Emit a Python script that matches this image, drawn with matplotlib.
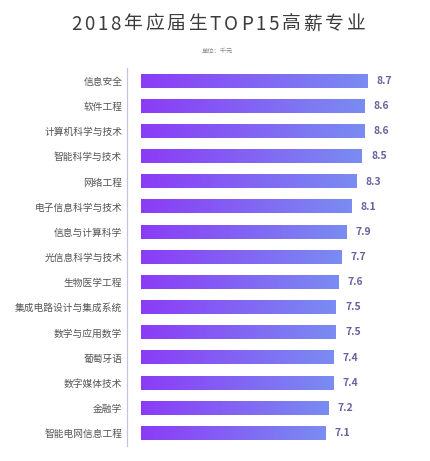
import matplotlib
matplotlib.use('Agg')
import matplotlib.pyplot as plt
from matplotlib.colors import LinearSegmentedColormap
import numpy as np

plt.rcParams['font.family'] = ['Noto Sans CJK SC', 'DejaVu Sans']

# data
majors = ['信息安全', '软件工程', '计算机科学与技术', '智能科学与技术', '网络工程',
          '电子信息科学与技术', '信息与计算科学', '光信息科学与技术', '生物医学工程',
          '集成电路设计与集成系统', '数学与应用数学', '葡萄牙语', '数字媒体技术',
          '金融学', '智能电网信息工程']
salary = [8.7, 8.6, 8.6, 8.5, 8.3, 8.1, 7.9, 7.7, 7.6, 7.5, 7.5, 7.4, 7.4, 7.2, 7.1]

W, H = 430, 461
fig = plt.figure(figsize=(W / 100, H / 100), dpi=100)
fig.patch.set_facecolor('white')

# axes placed in pixels: x=0 at 141px, 26px per unit; rows 81..433px
x0, px_unit = 141, 26.0
top, bottom = 68.4, 445.6
ax = fig.add_axes([x0 / W, 1 - bottom / H, 10 * px_unit / W, (bottom - top) / H])

grad = LinearSegmentedColormap.from_list('g', ['#8b3cf6', '#7a8cf1'])
bar_h = 0.54
ypos = np.arange(len(majors))
bars = ax.barh(ypos, salary, height=bar_h, color='none', edgecolor='none')
for b, v in zip(bars, salary):
    y = b.get_y()
    ax.imshow(np.linspace(0, 1, 256).reshape(1, -1), cmap=grad, aspect='auto',
              extent=(0, v, y + bar_h, y), zorder=2)
    ax.text(v + 0.35, y + bar_h / 2, f'{v:.1f}', va='center', ha='left',
            fontsize=7.5, color='#6c5fa0', fontweight='bold')

ax.set_xlim(0, 10)
ax.set_ylim(len(majors) - 0.5, -0.5)
ax.set_yticks(ypos)
ax.set_yticklabels(majors)
ax.tick_params(axis='y', length=0, pad=3.5, labelsize=7, labelcolor='#555555')
ax.set_xticks([])
for s in ['top', 'right', 'bottom']:
    ax.spines[s].set_visible(False)
ax.spines['left'].set_position(('outward', 10))
ax.spines['left'].set_color('#c9c3da')
ax.spines['left'].set_linewidth(0.9)

# letter-spaced title
title = '2018年应届生TOP15高薪专业'
fig.canvas.draw()
r = fig.canvas.get_renderer()
widths = []
for ch in title:
    t = fig.text(0, 0, ch, fontsize=13.5, color='#3c3c3c')
    widths.append(t.get_window_extent(r).width)
    t.remove()
gap = 2.8
total = sum(widths) + gap * (len(title) - 1)
x = 218 - total / 2
for ch, w in zip(title, widths):
    fig.text(x / W, 1 - 24 / H, ch, fontsize=13.5, color='#3c3c3c',
             ha='left', va='center')
    x += w + gap

fig.text(217 / W, 1 - 51 / H, '单位：千元', fontsize=4.5, color='#888888',
         ha='center', va='center')

fig.savefig('out.png', dpi=100)
